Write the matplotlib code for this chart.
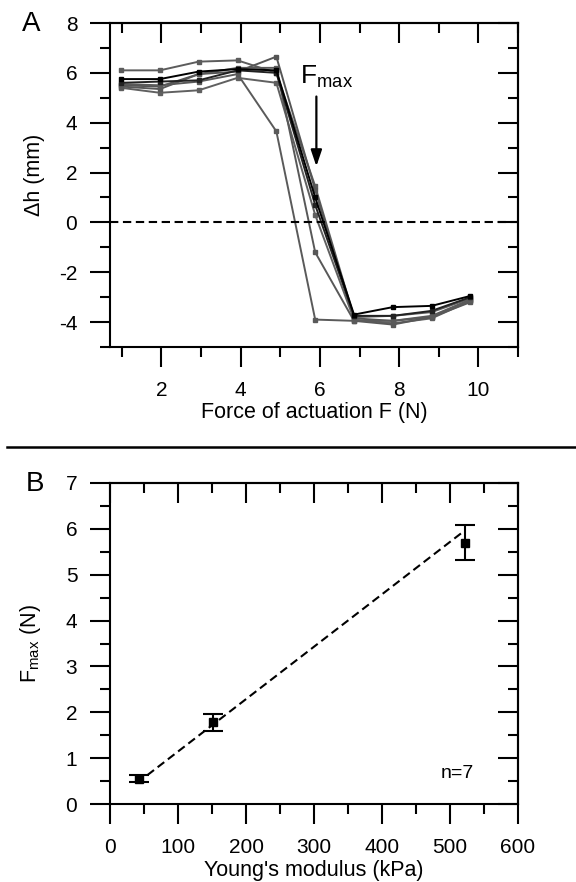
import matplotlib
matplotlib.use("Agg")
import matplotlib.pyplot as plt
from matplotlib.lines import Line2D
import numpy as np

plt.rcParams["font.family"] = ["Liberation Sans", "DejaVu Sans"]
plt.rcParams["mathtext.fontset"] = "custom"
plt.rcParams["mathtext.rm"] = "Liberation Sans"
plt.rcParams["mathtext.it"] = "Liberation Sans:italic"
plt.rcParams["axes.unicode_minus"] = False

# --- panel A: height change vs actuation force (7 samples) ---
force = [0.98, 1.96, 2.94, 3.92, 4.9, 5.88, 6.86, 7.84, 8.82, 9.8]
dh_1 = [5.75, 5.75, 6.05, 6.15, 6.10, 1.00, -3.70, -3.40, -3.35, -2.95]
dh_2 = [5.60, 5.65, 5.70, 6.10, 6.00, 0.70, -3.75, -3.75, -3.55, -3.00]
dh_3 = [6.10, 6.10, 6.45, 6.50, 6.00, 1.45, -3.80, -3.75, -3.60, -3.05]
dh_4 = [5.50, 5.45, 5.95, 6.05, 6.65, 1.30, -3.85, -3.95, -3.80, -3.10]
dh_5 = [5.40, 5.20, 5.30, 5.80, 5.60, 0.30, -3.90, -4.05, -3.85, -3.15]
dh_6 = [5.45, 5.35, 5.95, 6.20, 6.20, -1.20, -3.95, -4.10, -3.80, -3.20]
dh_7 = [5.55, 5.50, 5.65, 5.95, 3.65, -3.90, -3.95, -3.95, -3.75, -3.10]
series = [dh_3, dh_4, dh_5, dh_6, dh_7, dh_2, dh_1]
colors = ["#5c5c5c", "#555555", "#606060", "#585858", "#5a5a5a", "#222222", "#000000"]

# --- panel B: Fmax vs Young's modulus ---
modulus = [43, 152, 522]
fmax = [0.55, 1.78, 5.70]
fmax_err = [0.08, 0.19, 0.39]
fit_x = [55, 517]
fit_y = [0.63, 5.91]

W, H = 576, 882
fig = plt.figure(figsize=(W / 100, H / 100), dpi=100)


def px_axes(left, top, right, bottom):
    return fig.add_axes([left / W, 1 - bottom / H, (right - left) / W, (bottom - top) / H])


def style_axes(ax, xmaj, xmin, ymaj, ymin):
    for s in ax.spines.values():
        s.set_linewidth(1.5)
    ax.set_xticks(xmaj)
    ax.set_xticks(xmin, minor=True)
    ax.set_yticks(ymaj)
    ax.set_yticks(ymin, minor=True)
    ax.tick_params(which="both", direction="out", width=1.5, labelsize=15,
                   top=False, right=False)
    ax.tick_params(which="major", length=14.5)
    ax.tick_params(which="minor", length=7.5)
    ax.tick_params(axis="x", pad=10)
    ax.tick_params(axis="y", pad=9)
    # top and right ticks point inward
    top = ax.secondary_xaxis("top")
    top.set_xticks(xmaj)
    top.set_xticks(xmin, minor=True)
    top.tick_params(which="both", direction="in", width=1.5, labeltop=False)
    top.tick_params(which="major", length=14.5)
    top.tick_params(which="minor", length=7.5)
    top.spines["top"].set_linewidth(1.5)
    right = ax.secondary_yaxis("right")
    right.set_yticks(ymaj)
    right.set_yticks(ymin, minor=True)
    right.tick_params(which="both", direction="in", width=1.5, labelright=False)
    right.tick_params(which="major", length=14.5)
    right.tick_params(which="minor", length=7.5)
    right.spines["right"].set_linewidth(1.5)


# panel A
axA = px_axes(110, 23, 518, 347)
for ys, c in zip(series, colors):
    axA.plot(force, ys, color=c, lw=1.4, marker="s", ms=3.2, mfc=c, mec=c)
axA.axhline(0, color="black", lw=1.5, linestyle=(0, (4, 2.2)))
axA.set_xlim(0.7, 11)
axA.set_ylim(-5, 8)
style_axes(axA, [2, 4, 6, 8, 10], [1, 3, 5, 7, 9, 11],
           [-4, -2, 0, 2, 4, 6, 8], [-5, -3, -1, 1, 3, 5, 7])
axA.set_xlabel("Force of actuation F (N)", fontsize=15.5)
axA.xaxis.set_label_coords(0.5, -0.17)
axA.set_ylabel("Δh (mm)", fontsize=15.5)
axA.yaxis.set_label_coords(-0.16, 0.53)
axA.text(5.5, 5.58, r"$\mathrm{F}_{\mathrm{max}}$", fontsize=19, va="baseline")
axA.annotate("", xy=(5.91, 2.25), xytext=(5.91, 5.05),
             arrowprops=dict(arrowstyle="-|>,head_width=0.22,head_length=0.65",
                             color="black", lw=1.6, mutation_scale=15,
                             shrinkA=0, shrinkB=0))

# separator
fig.add_artist(Line2D([7 / W, 1], [1 - 447 / H, 1 - 447 / H], color="black", lw=1.8))

# panel B
axB = px_axes(110, 483, 518, 804)
axB.plot(fit_x, fit_y, color="black", lw=1.5, linestyle=(0, (4, 2.2)))
axB.errorbar(modulus, fmax, yerr=fmax_err, fmt="s", color="black", ms=6,
             capsize=7.5, capthick=1.5, elinewidth=1.5)
axB.set_xlim(0, 600)
axB.set_ylim(0, 7)
style_axes(axB, np.arange(0, 601, 100), np.arange(50, 600, 100),
           np.arange(0, 8, 1), np.arange(0.5, 7, 1))
axB.set_xlabel("Young's modulus (kPa)", fontsize=15.5)
axB.xaxis.set_label_coords(0.5, -0.175)
axB.set_ylabel(r"$\mathrm{F}_{\mathrm{max}}$ (N)", fontsize=15.5)
axB.yaxis.set_label_coords(-0.165, 0.5)
axB.text(511, 0.67, "n=7", fontsize=14, ha="center", va="center")

# panel letters
fig.text(31 / W, 1 - 24 / H, "A", fontsize=20, ha="center", va="center")
fig.text(35 / W, 1 - 484 / H, "B", fontsize=20, ha="center", va="center")

fig.savefig("out.png", dpi=100)
